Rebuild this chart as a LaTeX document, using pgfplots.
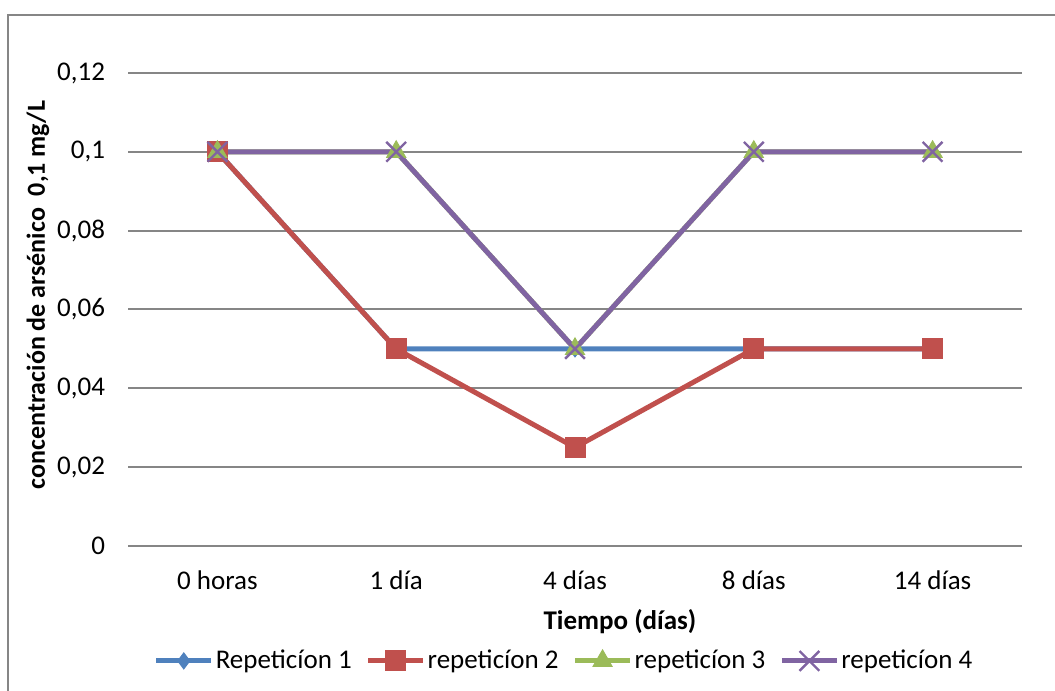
\documentclass[border=0pt]{standalone}
\usepackage{pgfplots}
\pgfplotsset{compat=1.18}
\usepackage{fontspec}
\setmainfont{Carlito}
\definecolor{sA}{HTML}{4F81BD}
\definecolor{sB}{HTML}{C0504D}
\definecolor{sC}{HTML}{9BBB59}
\definecolor{sD}{HTML}{8064A2}
\definecolor{gridc}{HTML}{868686}
\begin{document}
\begin{tikzpicture}[font=\fontsize{13.5bp}{16bp}\selectfont]
\useasboundingbox (0,0) rectangle (527.5bp,345.5bp);
\draw[color=gridc, line width=0.8bp] (4bp,-1bp) -- (4bp,338bp) -- (528.5bp,338bp);
\begin{axis}[
  at={(64bp,72.5bp)}, anchor=south west,
  width=447bp, height=236.5bp, scale only axis,
  xmin=-0.5, xmax=4.5, ymin=0, ymax=0.12,
  xtick={0,1,2,3,4},
  xticklabels={0 horas,1 día,4 días,8 días,14 días},
  ytick={0,0.02,0.04,0.06,0.08,0.1,0.12},
  yticklabels={0,{0,02},{0,04},{0,06},{0,08},{0,1},{0,12}},
  axis line style={draw=none},
  major tick style={draw=none},
  ymajorgrids, grid style={color=gridc, line width=1bp},
  yticklabel style={anchor=east, xshift=-8bp},
  xticklabel style={anchor=north, yshift=-9bp},
  xlabel={\textbf{Tiempo (días)}},
  ylabel={\fontsize{13bp}{15bp}\selectfont\textbf{concentración de arsénico\ \ 0,1 mg/L}},
  xlabel style={at={(axis description cs:0.5503,-0.1607)}, anchor=center},
  ylabel style={at={(axis description cs:-0.1007,0.5307)}, anchor=center, rotate=0},
  legend columns=4,
  legend style={draw=none, fill=none, at={(axis description cs:0.4877,-0.243)}, anchor=center,
    /tikz/every odd column/.append style={column sep=0bp},
    /tikz/every even column/.append style={column sep=6bp},
    nodes={inner sep=1bp}},
  legend cell align=left,
  legend image code/.code={\draw[mark repeat=2,mark phase=2] plot coordinates {(0bp,0bp) (13.75bp,0bp) (27.5bp,0bp)};},
]
\addplot[color=sA, line width=2.5bp, mark=diamond*, mark size=4bp, mark options={fill=sA, line width=0.5bp}]
  coordinates {(0,0.1) (1,0.05) (2,0.05) (3,0.05) (4,0.05)};
\addlegendentry{Repeticíon 1}
\addplot[color=sB, line width=2.5bp, mark=square*, mark size=5bp, mark options={fill=sB, line width=0.5bp}]
  coordinates {(0,0.1) (1,0.05) (2,0.025) (3,0.05) (4,0.05)};
\addlegendentry{repeticíon 2}
\addplot[color=sC, line width=2.5bp, mark=triangle*, mark size=5.5bp, mark options={fill=sC, line width=0.5bp}]
  coordinates {(0,0.1) (1,0.1) (2,0.05) (3,0.1) (4,0.1)};
\addlegendentry{repeticíon 3}
\addplot[color=sD, line width=2.5bp, mark=x, mark size=7bp, mark options={line width=1.2bp}]
  coordinates {(0,0.1) (1,0.1) (2,0.05) (3,0.1) (4,0.1)};
\addlegendentry{repeticíon 4}
\end{axis}
\end{tikzpicture}
\end{document}
